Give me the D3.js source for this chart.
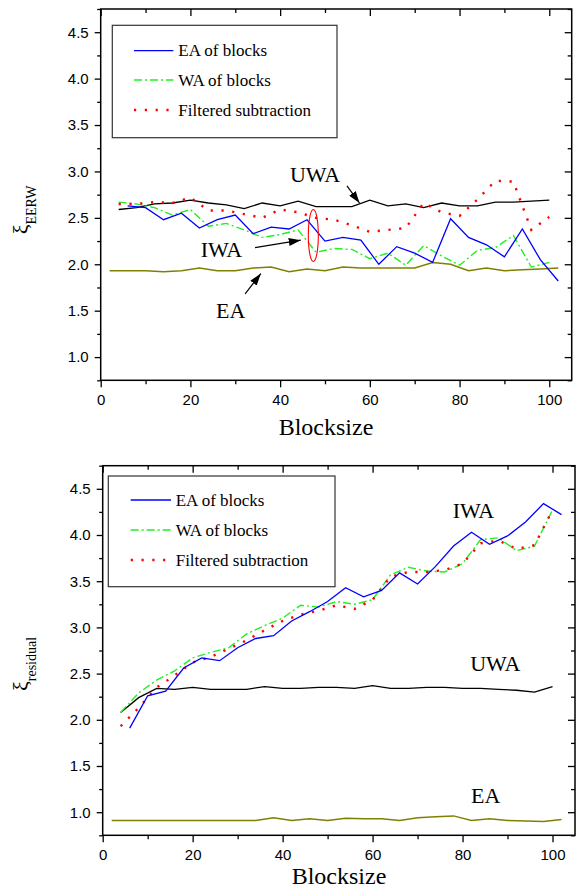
<!DOCTYPE html>
<html>
<head>
<meta charset="utf-8">
<script src="https://cdn.jsdelivr.net/npm/d3@7"></script>
<style>
  body { margin: 0; background: #fff; }
  svg { display: block; }
</style>
</head>
<body>
<svg id="chart"></svg>
<script>
// ---- Data ----
const blocks4 = [4, 8, 12, 16, 20, 24, 28, 32, 36, 40, 44, 48, 52, 56, 60, 64, 68, 72, 76, 80, 84, 88, 92, 96, 100];
const blocks6 = [6, 10, 14, 18, 22, 26, 30, 34, 38, 42, 46, 50, 54, 58, 62, 66, 70, 74, 78, 82, 86, 90, 94, 98, 102];
const blocks2 = [2, 6, 10, 14, 18, 22, 26, 30, 34, 38, 42, 46, 50, 54, 58, 62, 66, 70, 74, 78, 82, 86, 90, 94, 98, 102];

// top panel: xi_EERW
const eerwUWA      = [2.59, 2.61, 2.65, 2.66, 2.69, 2.66, 2.64, 2.60, 2.66, 2.63, 2.68, 2.62, 2.62, 2.62, 2.69, 2.63, 2.65, 2.61, 2.66, 2.63, 2.63, 2.67, 2.67, 2.68, 2.69];
const eerwEABlocks = [2.63, 2.61, 2.48, 2.55, 2.39, 2.48, 2.53, 2.33, 2.40, 2.38, 2.48, 2.25, 2.29, 2.26, 2.00, 2.19, 2.12, 2.02, 2.49, 2.29, 2.21, 2.08, 2.38, 2.05, 1.82];
const eerwWABlocks = [2.67, 2.65, 2.61, 2.53, 2.59, 2.41, 2.44, 2.37, 2.29, 2.32, 2.37, 2.13, 2.17, 2.16, 2.06, 2.12, 1.99, 2.20, 2.09, 1.99, 2.15, 2.18, 2.31, 1.97, 2.02];
const eerwFiltered = [2.65, 2.65, 2.67, 2.66, 2.72, 2.58, 2.58, 2.54, 2.50, 2.59, 2.56, 2.50, 2.48, 2.42, 2.35, 2.37, 2.39, 2.66, 2.56, 2.52, 2.70, 2.90, 2.89, 2.37, 2.51];
const eerwEA       = [1.93, 1.93, 1.93, 1.92, 1.93, 1.96, 1.93, 1.93, 1.96, 1.97, 1.92, 1.95, 1.93, 1.97, 1.96, 1.96, 1.96, 1.96, 2.02, 2.00, 1.93, 1.96, 1.93, 1.94, 1.95, 1.96];

// bottom panel: xi_residual
const resUWA      = [2.08, 2.24, 2.34, 2.33, 2.35, 2.33, 2.33, 2.33, 2.36, 2.34, 2.34, 2.35, 2.35, 2.34, 2.37, 2.34, 2.34, 2.35, 2.35, 2.34, 2.34, 2.33, 2.32, 2.30, 2.36];
const resEABlocks = [1.91, 2.26, 2.31, 2.56, 2.67, 2.64, 2.78, 2.88, 2.91, 3.07, 3.17, 3.28, 3.43, 3.33, 3.40, 3.59, 3.47, 3.66, 3.88, 4.03, 3.90, 3.99, 4.14, 4.34, 4.22];
const resWABlocks = [2.08, 2.29, 2.43, 2.53, 2.67, 2.73, 2.78, 2.93, 3.02, 3.10, 3.24, 3.22, 3.28, 3.25, 3.30, 3.57, 3.65, 3.61, 3.60, 3.69, 3.95, 3.97, 3.83, 3.88, 4.27];
const resFiltered = [1.93, 2.13, 2.35, 2.48, 2.62, 2.68, 2.77, 2.86, 2.97, 3.07, 3.14, 3.18, 3.24, 3.20, 3.30, 3.55, 3.60, 3.60, 3.62, 3.69, 3.91, 3.94, 3.85, 3.89, 4.27];
const resEA       = [0.91, 0.91, 0.91, 0.91, 0.91, 0.91, 0.91, 0.91, 0.91, 0.94, 0.91, 0.93, 0.91, 0.935, 0.93, 0.93, 0.91, 0.94, 0.95, 0.96, 0.91, 0.93, 0.91, 0.905, 0.90, 0.92];

const yTicks = [1.0, 1.5, 2.0, 2.5, 3.0, 3.5, 4.0, 4.5];
const yMinorTicks = [0.75, 1.25, 1.75, 2.25, 2.75, 3.25, 3.75, 4.25, 4.75];
const xTicks = [0, 20, 40, 60, 80, 100];
const xMinorTicks = [10, 30, 50, 70, 90];
const legendLabels = ["EA of blocks", "WA of blocks", "Filtered subtraction"];

// ---- Styles ----
const W = 583, H = 889;
const serif = "'Liberation Serif', 'Times New Roman', serif";
const sans = "'Liberation Sans', Arial, sans-serif";

const styles = {
  uwa:      { stroke: "#000000", width: 1.3 },
  eaBlocks: { stroke: "#0000ff", width: 1.3 },
  waBlocks: { stroke: "#22ee22", width: 1.4, dash: "8,3,2,3" },
  filtered: { stroke: "#ff0000", width: 2.4, dash: "2.2,8.6" },
  ea:       { stroke: "#808000", width: 1.5 }
};

const zip = (xs, ys) => xs.map((x, i) => ({ x, y: ys[i] }));

const panels = [
  {
    xr: [100.7, 571.7], yr: [380.3, 9],
    sub: "EERW", ytitleY: 210, xtitle: [326, 435],
    series: [
      { key: "ea", data: zip(blocks2, eerwEA) },
      { key: "uwa", data: zip(blocks4, eerwUWA) },
      { key: "waBlocks", data: zip(blocks4, eerwWABlocks) },
      { key: "filtered", data: zip(blocks4, eerwFiltered) },
      { key: "eaBlocks", data: zip(blocks6, eerwEABlocks) }
    ],
    legend: { x: 112.3, y: 25.3, w: 224.7, h: 112.4, l0: 134, l1: 173.3, tx: 178.3, rows: [50.7, 80, 110] },
    notes: [
      { text: "UWA", x: 42.2, y: 2.89 },
      { text: "IWA", x: 22.3, y: 2.075 },
      { text: "EA", x: 25.7, y: 1.42 }
    ],
    arrows: [
      { from: [54.9, 2.844], to: [57.7, 2.66] },
      { from: [34.4, 2.18], to: [44.6, 2.26] },
      { from: [32.2, 1.68], to: [35.7, 1.90] }
    ],
    ellipse: { x: 47.4, y: 2.31, rx: 5, ry: 26 }
  },
  {
    xr: [102.7, 575], yr: [835.3, 465.7],
    sub: "residual", ytitleY: 664, xtitle: [339, 884],
    series: [
      { key: "ea", data: zip(blocks2, resEA) },
      { key: "uwa", data: zip(blocks4, resUWA) },
      { key: "waBlocks", data: zip(blocks4, resWABlocks) },
      { key: "filtered", data: zip(blocks4, resFiltered) },
      { key: "eaBlocks", data: zip(blocks6, resEABlocks) }
    ],
    legend: { x: 108.3, y: 476, w: 226.7, h: 110.7, l0: 130.7, l1: 171, tx: 175.7, rows: [500, 530, 560] },
    notes: [
      { text: "IWA", x: 77.8, y: 4.18 },
      { text: "UWA", x: 81.7, y: 2.53 },
      { text: "EA", x: 81.9, y: 1.10 }
    ],
    arrows: [],
    ellipse: null
  }
];

const svg = d3.select("#chart").attr("width", W).attr("height", H);

// arrow head
svg.append("defs").append("marker")
  .attr("id", "arrow")
  .attr("viewBox", "0 0 12 8")
  .attr("refX", 12).attr("refY", 4)
  .attr("markerWidth", 12).attr("markerHeight", 8)
  .attr("markerUnits", "userSpaceOnUse")
  .attr("orient", "auto")
  .append("path").attr("d", "M0,0L12,4L0,8Z").attr("fill", "#000");

function styleAxis(g) {
  g.select(".domain").remove();
  g.selectAll(".tick line").attr("stroke", "#000").attr("stroke-width", 1.3);
  g.selectAll(".tick text").attr("fill", "#000").style("font-family", sans).style("font-size", "15px");
}

function drawPanel(p) {
  const x = d3.scaleLinear().domain([0, 105]).range(p.xr);
  const y = d3.scaleLinear().domain([0.75, 4.75]).range(p.yr);
  const g = svg.append("g");

  // axes: left/bottom outward with labels, right/top inward
  g.append("g").attr("transform", `translate(${p.xr[0]},0)`)
    .call(d3.axisLeft(y).tickValues(yTicks).tickSize(6).tickPadding(6).tickFormat(d3.format(".1f")))
    .call(styleAxis);
  g.append("g").attr("transform", `translate(${p.xr[0]},0)`)
    .call(d3.axisLeft(y).tickValues(yMinorTicks).tickSize(3.5).tickFormat(""))
    .call(styleAxis);
  g.append("g").attr("transform", `translate(${p.xr[1]},0)`)
    .call(d3.axisRight(y).tickValues(yTicks).tickSize(-7).tickFormat(""))
    .call(styleAxis);
  g.append("g").attr("transform", `translate(${p.xr[1]},0)`)
    .call(d3.axisRight(y).tickValues(yMinorTicks).tickSize(-4).tickFormat(""))
    .call(styleAxis);
  g.append("g").attr("transform", `translate(0,${p.yr[0]})`)
    .call(d3.axisBottom(x).tickValues(xTicks).tickSize(7).tickPadding(7))
    .call(styleAxis);
  g.append("g").attr("transform", `translate(0,${p.yr[0]})`)
    .call(d3.axisBottom(x).tickValues(xMinorTicks).tickSize(4).tickFormat(""))
    .call(styleAxis);
  g.append("g").attr("transform", `translate(0,${p.yr[1]})`)
    .call(d3.axisTop(x).tickValues(xTicks).tickSize(-7).tickFormat(""))
    .call(styleAxis);
  g.append("g").attr("transform", `translate(0,${p.yr[1]})`)
    .call(d3.axisTop(x).tickValues(xMinorTicks).tickSize(-4).tickFormat(""))
    .call(styleAxis);

  // frame
  g.append("rect")
    .attr("x", p.xr[0]).attr("y", p.yr[1])
    .attr("width", p.xr[1] - p.xr[0]).attr("height", p.yr[0] - p.yr[1])
    .attr("fill", "none").attr("stroke", "#000").attr("stroke-width", 1.5);

  // series
  const line = d3.line().x(d => x(d.x)).y(d => y(d.y));
  p.series.forEach(s => {
    const st = styles[s.key];
    g.append("path")
      .datum(s.data)
      .attr("d", line)
      .attr("fill", "none")
      .attr("stroke", st.stroke)
      .attr("stroke-width", st.width)
      .attr("stroke-dasharray", st.dash || null);
  });

  // legend
  const L = p.legend;
  const lg = g.append("g");
  lg.append("rect")
    .attr("x", L.x).attr("y", L.y).attr("width", L.w).attr("height", L.h)
    .attr("fill", "#fff").attr("stroke", "#333").attr("stroke-width", 1.2);
  ["eaBlocks", "waBlocks", "filtered"].forEach((k, i) => {
    const st = styles[k];
    lg.append("line")
      .attr("x1", L.l0).attr("x2", L.l1)
      .attr("y1", L.rows[i]).attr("y2", L.rows[i])
      .attr("stroke", st.stroke).attr("stroke-width", st.width)
      .attr("stroke-dasharray", st.dash || null);
    lg.append("text")
      .attr("x", L.tx).attr("y", L.rows[i] + 5.5)
      .style("font-family", serif).style("font-size", "17px")
      .text(legendLabels[i]);
  });

  // annotations
  p.notes.forEach(n => {
    g.append("text")
      .attr("x", x(n.x)).attr("y", y(n.y))
      .style("font-family", serif).style("font-size", "22px")
      .text(n.text);
  });
  p.arrows.forEach(a => {
    g.append("line")
      .attr("x1", x(a.from[0])).attr("y1", y(a.from[1]))
      .attr("x2", x(a.to[0])).attr("y2", y(a.to[1]))
      .attr("stroke", "#000").attr("stroke-width", 1.2)
      .attr("marker-end", "url(#arrow)");
  });
  if (p.ellipse) {
    g.append("ellipse")
      .attr("cx", x(p.ellipse.x)).attr("cy", y(p.ellipse.y))
      .attr("rx", p.ellipse.rx).attr("ry", p.ellipse.ry)
      .attr("fill", "none").attr("stroke", "#ff0000").attr("stroke-width", 1.1);
  }

  // axis titles
  g.append("text")
    .attr("x", p.xtitle[0]).attr("y", p.xtitle[1])
    .attr("text-anchor", "middle")
    .style("font-family", serif).style("font-size", "24px")
    .text("Blocksize");

  const yt = g.append("text")
    .attr("transform", `translate(28,${p.ytitleY}) rotate(-90)`)
    .attr("text-anchor", "middle")
    .style("font-family", serif).style("font-size", "22px");
  yt.append("tspan").text("ξ");
  yt.append("tspan").attr("dy", 8).style("font-size", "14px").text(p.sub);
}

panels.forEach(drawPanel);
</script>
</body>
</html>
